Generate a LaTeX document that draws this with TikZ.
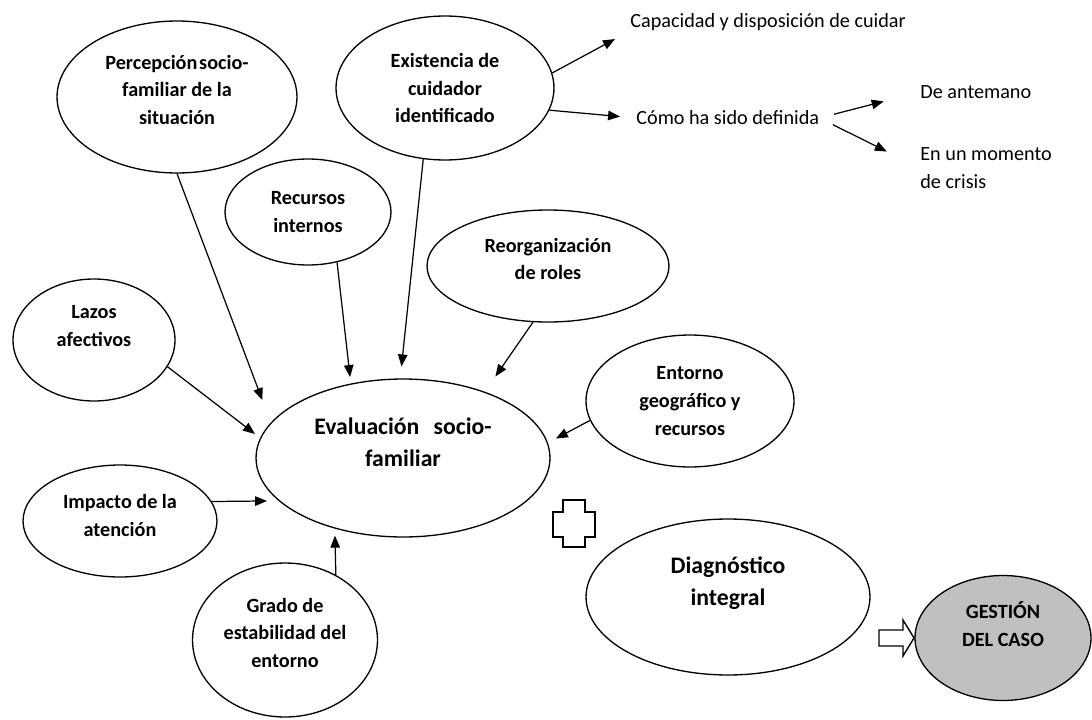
\documentclass[tikz,border=0pt]{standalone}
\usepackage{fontspec}
\setmainfont{Carlito}
\usetikzlibrary{shapes.geometric, arrows.meta}
\definecolor{cgris}{RGB}{192,192,192}
\newcommand{\vacia}[1][0pt]{\\[#1]\mbox{}}

\begin{document}
\begin{tikzpicture}[x=0.02cm, y=-0.02cm, >={Triangle[length=2.4mm, width=1.9mm]},
    burbuja/.style={draw, ellipse, line width=0.75pt, inner sep=0pt, align=center,
      font=\fontsize{11.5}{15.8}\selectfont\bfseries},
    grande/.style={font=\fontsize{13.5}{18.2}\selectfont\bfseries},
    nota/.style={inner sep=0pt, anchor=west, align=left, font=\fontsize{11.5}{15.8}\selectfont},
    flecha/.style={->, line width=0.7pt}]

  \useasboundingbox (0,0) rectangle (1092,720);

  % nodo central
  \node[burbuja, grande, minimum width=5.88cm, minimum height=3.16cm] (eval) at (403,458)
    {Evaluación\hspace{0.6em}socio-\\familiar\vacia};

  % factores
  \node[burbuja, minimum width=4.8cm, minimum height=3.04cm] (perc) at (177,97)
    {Percepción\hspace{1pt}socio-\\familiar de la\\situación\vacia[-7.6pt]};
  \node[burbuja, minimum width=4.36cm, minimum height=2.88cm] (exist) at (445,88)
    {Existencia de\\cuidador\\identificado};
  \node[burbuja, minimum width=3.32cm, minimum height=2.12cm] (recur) at (308,212)
    {Recursos\\internos};
  \node[burbuja, minimum width=4.84cm, minimum height=2.24cm] (reorg) at (548,266)
    {Reorganización\\de roles\vacia[-7.6pt]};
  \node[burbuja, minimum width=3.24cm, minimum height=2.44cm] (lazos) at (94,340)
    {Lazos\\afectivos\vacia};
  \node[burbuja, minimum width=4.16cm, minimum height=2.64cm] (entorno) at (690,401)
    {Entorno\\geográfico y\\recursos};
  \node[burbuja, minimum width=3.88cm, minimum height=2.24cm] (impacto) at (120,521)
    {Impacto de la\\atención\vacia[-9pt]};
  \node[burbuja, minimum width=3.7cm, minimum height=3.08cm] (grado) at (285,640)
    {Grado de\\estabilidad del\\entorno\vacia[-7.6pt]};

  % resultado
  \node[burbuja, grande, minimum width=5.68cm, minimum height=3.12cm] (diag) at (728,597)
    {Diagnóstico\\integral\vacia};
  \node[burbuja, fill=cgris, minimum width=3.52cm, minimum height=2.5cm] (gestion) at (1003,638)
    {GESTIÓN\\DEL CASO\vacia};

  % textos sueltos
  \node[nota] (cap) at (630,22) {Capacidad y disposición de cuidar};
  \node[nota] (como) at (636,118) {Cómo ha sido definida};
  \node[nota] (ante) at (920,92) {De antemano};
  \node[nota] (crisis) at (920,168) {En un momento\\de crisis};

  % flechas hacia la evaluación
  \draw[flecha, shorten >=0.48cm] (perc.south) -- (eval.165);
  \draw[flecha, shorten >=0.13cm] (recur.-60) -- (eval.125);
  \draw[flecha, shorten >=0.24cm] (exist.-107) -- (eval.92);
  \draw[flecha, shorten >=0.37cm] (reorg.-105) -- (eval.39);
  \draw[flecha, shorten >=0.13cm] (lazos.-20) -- (eval.172);
  \draw[flecha, shorten >=0.18cm] (entorno.191) -- (eval.6);
  \draw[flecha, shorten >=0.23cm] (impacto.12) -- (eval.-161);
  \draw[flecha, shorten >=0.14cm] (grado.52) -- (eval.-134);

  % cuidador
  \draw[flecha, shorten >=0.34cm] (exist.8) -- (cap.south west);
  \draw[flecha, shorten >=0.32cm] (exist.-12) -- (como.west);
  \draw[flecha, shorten <=0.3cm, shorten >=0.75cm] (como.east) -- (ante.west);
  \draw[flecha, shorten <=0.3cm, shorten >=0.74cm] (como.east) -- (crisis.west);

  % signo mas y flecha de bloque
  \draw[line width=1.1pt] (563,500) -- (585,500) -- (585,512) -- (595,512) -- (595,537)
    -- (585,537) -- (585,547) -- (563,547) -- (563,537) -- (553,537) -- (553,512)
    -- (563,512) -- cycle;
  \draw[line width=0.8pt] (879,630) -- (903,630) -- (903,620) -- (914,638) -- (903,656)
    -- (903,646) -- (879,646) -- cycle;
\end{tikzpicture}
\end{document}
